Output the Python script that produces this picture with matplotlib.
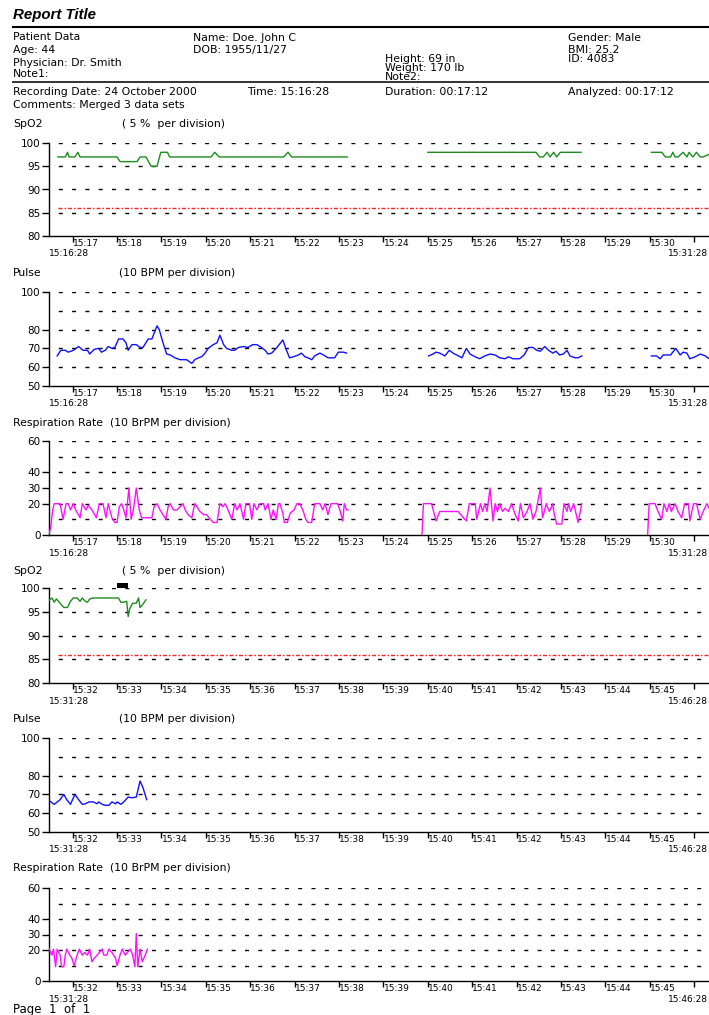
import matplotlib
matplotlib.use("Agg")
import matplotlib.pyplot as plt
from matplotlib.transforms import blended_transform_factory

W, H, DPI = 709, 1015, 100
plt.rcParams['font.family'] = ['DejaVu Sans']
plt.rcParams['lines.scale_dashes'] = False

# ---------------- header fields ----------------
REPORT_TITLE = "Report Title"
HEADER_COL1 = ["Patient Data", "Age: 44", "Physician: Dr. Smith", "Note1:"]
HEADER_COL2 = ["Name: Doe. John C", "DOB: 1955/11/27"]
HEADER_COL3 = ["Height: 69 in", "Weight: 170 lb", "Note2:"]
HEADER_COL4 = ["Gender: Male", "BMI: 25.2", "ID: 4083"]
RECORDING = ["Recording Date: 24 October 2000", "Time: 15:16:28",
             "Duration: 00:17:12", "Analyzed: 00:17:12"]
COMMENTS = "Comments: Merged 3 data sets"
FOOTER = "Page  1  of  1"

# ---------------- time axes (seconds from page start) ----------------
PAGE1_START, PAGE1_END = "15:16:28", "15:31:28"
PAGE2_START, PAGE2_END = "15:31:28", "15:46:28"
SPAN_S = 900
TICK_S = [32 + 60 * k for k in range(15)]
TICKS_PAGE1 = ["15:17", "15:18", "15:19", "15:20", "15:21", "15:22", "15:23", "15:24",
               "15:25", "15:26", "15:27", "15:28", "15:29", "15:30", ""]
TICKS_PAGE2 = ["15:32", "15:33", "15:34", "15:35", "15:36", "15:37", "15:38", "15:39",
               "15:40", "15:41", "15:42", "15:43", "15:44", "15:45", ""]

SPO2_ALARM = 86

# ---------------- page 1 series ----------------
SPO2_P1 = [
    ([12, 22, 25, 27, 35, 39, 42, 92, 96, 119, 123, 131, 138, 146, 151, 160, 163,
      219, 224, 230, 317, 323, 328, 403],
     [97, 97, 98, 97, 97, 98, 97, 97, 96, 96, 97, 97, 95, 95, 98, 98, 97,
      97, 98, 97, 97, 98, 97, 97]),
    ([512, 658, 663, 668, 673, 677, 682, 686, 691, 719],
     [98, 98, 97, 97, 98, 97, 98, 97, 98, 98]),
    ([814, 828, 833, 840, 843, 846, 850, 857, 862, 865, 870, 875, 880, 884, 898],
     [98, 98, 97, 97, 98, 97, 97, 98, 97, 98, 97, 98, 97, 97, 98]),
]

PULSE_P1 = [
    ([11, 16, 22, 26, 33, 40, 46, 52, 55, 61, 67, 71, 76, 80, 85, 89, 94, 100, 104, 107,
      112, 118, 123, 127, 134, 139, 146, 149, 154, 159, 164, 170, 177, 186, 193, 197,
      202, 206, 211, 215, 222, 227, 231, 236, 240, 247, 251, 256, 263, 269, 275, 281,
      287, 292, 296, 301, 308, 316, 320, 325, 330, 337, 341, 346, 350, 355, 359, 366,
      371, 377, 386, 391, 398, 402],
     [66, 69, 69, 68, 69, 71, 69, 69, 67, 69.5, 70, 68, 69, 71, 70, 70.5, 75, 75, 73, 69,
      72, 72, 70.5, 70.5, 75, 75, 82, 80, 73, 67, 66.5, 65, 64, 64, 62, 64,
      65, 65.5, 67.5, 70, 72, 73, 77, 72, 70, 69, 69, 70.5, 71, 70.5, 72, 72,
      70.5, 69, 67, 67.5, 70.5, 74.5, 70, 65, 65.5, 66.5, 67.5, 65.5, 65, 64, 66, 67.5,
      66.5, 65, 65, 68, 68, 67.5]),
    ([513, 519, 523, 528, 535, 541, 546, 551, 558, 564, 569, 576, 582, 589, 596, 603,
      609, 616, 621, 627, 636, 642, 648, 654, 659, 664, 670, 675, 681, 685, 690, 695,
      700, 704, 711, 715, 720],
     [66, 67, 68, 67.5, 66, 69, 67.5, 66.5, 65, 70, 67, 65.5, 64.5, 66, 67, 66.5,
      65, 64.5, 65.5, 64.5, 64.5, 66.5, 70.5, 70.5, 69, 68.5, 71, 69, 67.5, 68.5, 66.5, 67,
      69, 66, 65, 65, 66]),
    ([814, 821, 826, 830, 840, 842, 847, 853, 857, 862, 866, 873, 880, 887, 892, 898],
     [66, 66, 64.5, 66.5, 66.5, 67.5, 70, 66.5, 68, 67.5, 64.5, 65.5, 67, 66, 64.5, 65]),
]

RESP_P1 = [
    ([0, 2, 5, 7, 15, 19, 23, 26, 29, 33, 36, 42, 45, 50, 53, 58, 64, 68, 73, 77, 80,
      85, 89, 92, 95, 98, 101, 104, 108, 111, 114, 118, 122, 125, 132, 139, 142, 146,
      150, 154, 158, 161, 164, 168, 173, 177, 181, 184, 188, 193, 197, 200, 204, 209,
      213, 218, 222, 227, 231, 235, 238, 242, 247, 251, 254, 258, 263, 266, 271, 274,
      277, 281, 285, 290, 292, 296, 300, 303, 307, 310, 312, 316, 318, 322, 326, 331,
      335, 339, 343, 347, 350, 355, 359, 366, 370, 373, 377, 381, 386, 390, 393, 397,
      399, 402, 404],
     [1, 4, 16, 20, 20, 10, 20, 20, 16, 20, 16, 11, 20, 16, 19, 16, 11, 20, 20, 11, 20,
      11, 8, 8, 18, 20, 16, 11, 30, 10, 16, 30, 16, 11, 11, 11, 18, 20,
      16, 13, 10, 18, 20, 16, 16, 18, 20, 16, 13, 11, 20, 18, 15, 13,
      13, 10, 8, 8, 20, 18, 20, 16, 10, 20, 16, 20, 10, 20, 20, 10,
      20, 16, 20, 20, 16, 20, 10, 16, 10, 20, 20, 14, 8, 8, 14, 16,
      20, 20, 16, 10, 8, 8, 20, 20, 16, 20, 13, 20, 20, 20, 16, 9,
      20, 16, 16]),
    ([504, 506, 517, 523, 528, 553, 560, 564, 568, 576, 578, 583, 586, 589, 592, 596,
      600, 603, 606, 609, 613, 616, 621, 625, 630, 634, 637, 641, 646, 650, 654, 658,
      664, 667, 672, 676, 681, 682, 686, 693, 696, 700, 702, 705, 709, 715, 720],
     [0, 20, 20, 9, 15, 15, 11, 9, 20, 20, 10, 20, 15, 20, 15, 30,
      9, 20, 15, 20, 15, 17, 15, 20, 13, 9, 20, 11, 15, 20, 10, 15,
      30, 11, 20, 15, 20, 15, 7, 7, 20, 15, 20, 15, 20, 8, 20]),
    ([809, 811, 819, 823, 828, 831, 835, 838, 841, 846, 850, 855, 859, 864, 866, 871,
      875, 880, 884, 889, 892, 898],
     [0, 20, 20, 15, 10, 20, 15, 20, 15, 20, 15, 11, 20, 20, 9, 20,
      20, 10, 15, 20, 17, 19]),
]

# ---------------- page 2 series ----------------
SPO2_P2 = [
    ([0, 4, 7, 10, 15, 20, 25, 29, 33, 38, 42, 45, 49, 52, 55, 60, 94, 97, 101, 105,
      107, 109, 113, 118, 121, 123, 127, 131],
     [97.4, 97.9, 97, 97.7, 96.8, 95.9, 95.9, 97.2, 97.9, 97.9, 97.2, 97.9, 97.2, 97,
      97.7, 97.9, 97.9, 97, 97, 97.2, 94, 95.6, 96.8, 96.8, 97.9, 95.9, 96.6, 97.5]),
]
SPO2_P2_EVENT = (91.5, 107.0)   # flagged interval, seconds

PULSE_P2 = [
    ([0, 7, 15, 20, 24, 29, 35, 40, 45, 49, 54, 60, 65, 67, 72, 76, 81, 85, 90, 92,
      97, 101, 107, 112, 118, 123, 127, 132],
     [66.8, 64.7, 67.2, 70, 67.2, 64.7, 70, 67.2, 64.7, 65, 66, 66, 65, 66, 64.7, 64.2,
      64.2, 66, 65, 66, 64.7, 66, 68.6, 68.2, 68.6, 77.1, 73.6, 67.2]),
]

RESP_P2 = [
    ([0, 4, 6, 9, 11, 15, 17, 20, 22, 24, 28, 31, 34, 38, 41, 45, 48, 52, 55, 58, 61,
      65, 68, 72, 74, 78, 81, 85, 90, 92, 96, 99, 103, 106, 110, 113, 116, 118, 120,
      123, 126, 130, 133],
     [20.8, 16.7, 20.6, 9.2, 20.6, 16.7, 9.2, 9.2, 16.7, 20.6, 16.7, 14.6, 9.9, 16.7,
      20.6, 16.7, 18.4, 16.7, 20.6, 12.4, 14.6, 16.7, 18.4, 20.6, 16.7, 16.7, 20.6,
      18.4, 14.6, 9.9, 16.7, 20.6, 16.7, 18.4, 20.6, 16.7, 9.2, 30.6, 9.2, 20.6, 12.4,
      16.7, 20.6]),
]

# ---------------- drawing ----------------
GREEN, BLUE, MAGENTA, RED = "#1c8c1c", "#1010ff", "#ff10ff", "#ff2020"
TXT = 7.8        # labels and header text
YTICK_FS = 7.5
XTICK_FS = 6.5
PX = 0.72        # points per pixel at 100 dpi
GRID_LS = (4 * PX, (4 * PX, 9.3 * PX))
ALARM_LS = (0, (4 * PX, 2 * PX, 1.5 * PX, 2 * PX))

fig = plt.figure(figsize=(W / DPI, H / DPI), dpi=DPI)


def ftext(x, y, s, **kw):
    kw.setdefault("fontsize", TXT)
    kw.setdefault("va", "center")
    fig.text(x / W, 1 - y / H, s, **kw)


def hrule(y, lw, color="black"):
    fig.add_artist(plt.Line2D([13 / W, 1.0], [1 - y / H] * 2, color=color, lw=lw,
                              transform=fig.transFigure))


# header
ftext(13, 15, REPORT_TITLE, fontsize=10.8, fontweight="bold", fontstyle="italic",
      family="Liberation Sans")
hrule(26.7, 1.5)
for s, y in zip(HEADER_COL1, [37, 50, 62.5, 74]):
    ftext(13, y, s)
for s, y in zip(HEADER_COL2, [38, 50]):
    ftext(193, y, s)
for s, y in zip(HEADER_COL3, [59, 68, 77]):
    ftext(385, y, s)
for s, y in zip(HEADER_COL4, [38, 50, 58.5]):
    ftext(568, y, s)
hrule(82, 1.4, "#333333")
for x, s in zip([13, 247, 385, 568], RECORDING):
    ftext(x, 92, s)
ftext(13, 105, COMMENTS)
ftext(13, 1010, FOOTER, fontsize=8.5)

AX_L, AX_R = 49, 715


def panel(top, bottom, ylim, yticks, grid, series, color, ticks, start, end,
          title, title_y, subtitle=None, sub_x=None):
    ax = fig.add_axes([AX_L / W, 1 - bottom / H, (AX_R - AX_L) / W, (bottom - top) / H])
    ax.set_xlim(0, SPAN_S)
    ax.set_ylim(*ylim)
    ax.patch.set_visible(False)
    for side in ("top", "right"):
        ax.spines[side].set_visible(False)
    for side in ("left", "bottom"):
        ax.spines[side].set_linewidth(1.0)
    for g in grid:
        ax.axhline(g, color="black", lw=1.0, linestyle=GRID_LS, zorder=1)
    ax.set_yticks(yticks)
    ax.set_yticklabels([str(v) for v in yticks])
    ax.set_xticks(TICK_S)
    ax.set_xticklabels([])
    ax.tick_params(axis="y", direction="out", length=5, width=1, pad=1,
                   labelsize=YTICK_FS)
    ax.tick_params(axis="x", direction="out", length=4, width=1)
    # minute labels sit to the right of their tick marks
    trans = blended_transform_factory(ax.transData, fig.transFigure)
    for t, lab in zip(TICK_S, ticks):
        if lab:
            ax.text(t, 1 - (bottom + 7.5) / H, lab, transform=trans, ha="left",
                    va="center", fontsize=XTICK_FS)
    for t, v in series:
        ax.plot(t, v, color=color, lw=1.0, zorder=3, solid_joinstyle="round")
    ftext(AX_L, bottom + 18, start, fontsize=XTICK_FS)
    ftext(708, bottom + 18, end, fontsize=XTICK_FS, ha="right")
    ftext(13, title_y, title)
    if subtitle:
        ftext(sub_x, title_y, subtitle)
    return ax


def spo2_panel(top, bottom, series, ticks, start, end, title_y):
    ax = panel(top, bottom, (80, 100), [80, 85, 90, 95, 100], [85, 90, 95, 100],
               series, GREEN, ticks, start, end, "SpO2", title_y,
               "( 5 %  per division)", 122)
    ax.axhline(SPO2_ALARM, xmin=(58 - AX_L) / (AX_R - AX_L), color=RED, lw=1.0,
               linestyle=ALARM_LS, zorder=2)
    return ax


def pulse_panel(top, bottom, series, ticks, start, end, title_y):
    return panel(top, bottom, (50, 100), [50, 60, 70, 80, 100], [60, 70, 80, 90, 100],
                 series, BLUE, ticks, start, end, "Pulse", title_y,
                 "(10 BPM per division)", 119)


def resp_panel(top, bottom, series, ticks, start, end, title_y):
    return panel(top, bottom, (0, 60), [0, 20, 30, 40, 60], [10, 20, 30, 40, 50, 60],
                 series, MAGENTA, ticks, start, end,
                 "Respiration Rate  (10 BrPM per division)", title_y)


spo2_panel(143, 236, SPO2_P1, TICKS_PAGE1, PAGE1_START, PAGE1_END, 124)
pulse_panel(292, 386, PULSE_P1, TICKS_PAGE1, PAGE1_START, PAGE1_END, 273)
resp_panel(441, 535, RESP_P1, TICKS_PAGE1, PAGE1_START, PAGE1_END, 423)
ax4 = spo2_panel(588, 683, SPO2_P2, TICKS_PAGE2, PAGE2_START, PAGE2_END, 571)
ev0, ev1 = SPO2_P2_EVENT
ax4.bar((ev0 + ev1) / 2, 1.1, width=ev1 - ev0, bottom=100, color="black",
        clip_on=False, zorder=4)
pulse_panel(738, 832, PULSE_P2, TICKS_PAGE2, PAGE2_START, PAGE2_END, 719)
resp_panel(888, 981, RESP_P2, TICKS_PAGE2, PAGE2_START, PAGE2_END, 868)

fig.savefig("out.png", dpi=DPI)
